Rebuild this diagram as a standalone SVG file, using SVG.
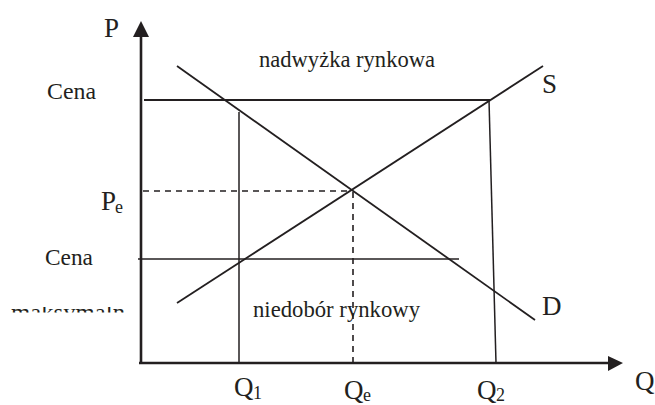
<svg xmlns="http://www.w3.org/2000/svg" width="655" height="405" viewBox="0 0 655 405">
<defs>
<style>
text{font-family:"Liberation Serif","DejaVu Serif",serif;fill:#231f20}
.lbl{font-size:23.5px}
.big{font-size:27px}
.sub{font-size:18px}
.ax{stroke:#231f20;stroke-width:2.6;fill:none}
.ln{stroke:#231f20;stroke-width:1.8;fill:none}
.th{stroke:#231f20;stroke-width:1.5;fill:none}
.ds{stroke:#231f20;stroke-width:1.6;fill:none;stroke-dasharray:6,5}
.ah{fill:#231f20}
</style>
<clipPath id="clipM"><rect x="0" y="307" width="140" height="5.5"/></clipPath>
</defs>
<rect width="655" height="405" fill="#fff"/>
<g id="axes">
<line class="ax" x1="141" y1="34" x2="141" y2="364"/>
<polygon class="ah" points="133,37 149,37 141,21"/>
<line class="ax" x1="139" y1="363" x2="610" y2="363"/>
<polygon class="ah" points="608,356 608,371 623,363"/>
</g>
<g id="connectors">
<line class="ln" x1="144" y1="100" x2="490" y2="100"/>
<line class="th" x1="239" y1="112" x2="239" y2="363"/>
<line class="th" x1="489" y1="100" x2="496" y2="363"/>
<line class="th" x1="138" y1="259" x2="459" y2="259"/>
<line class="ds" x1="143" y1="191" x2="352" y2="191"/>
<line class="ds" x1="353" y1="192" x2="353" y2="363"/>
<line class="ln" x1="177" y1="66" x2="535" y2="320"/>
<line class="ln" x1="177" y1="303" x2="543" y2="66"/>
</g>
<g id="label-P"><text class="big" x="104" y="37" font-size="28">P</text></g>
<g id="label-cena-top"><text class="lbl" x="47" y="99" textLength="49" lengthAdjust="spacingAndGlyphs">Cena</text></g>
<g id="label-Pe"><text class="big" x="101" y="210">P</text><text class="sub" x="115" y="213">e</text></g>
<g id="label-cena-bottom"><text class="lbl" x="45" y="265" textLength="48" lengthAdjust="spacingAndGlyphs">Cena</text></g>
<g id="label-maks" clip-path="url(#clipM)"><text class="lbl" x="11" y="320" textLength="114" lengthAdjust="spacingAndGlyphs">maksymaln</text></g>
<g id="label-nadwyzka"><text class="lbl" x="259" y="67" textLength="176" lengthAdjust="spacingAndGlyphs">nadwyżka rynkowa</text></g>
<g id="label-S"><text class="big" x="542" y="93" font-size="28">S</text></g>
<g id="label-D"><text class="big" x="542" y="315">D</text></g>
<g id="label-niedobor"><text class="lbl" x="253" y="317" textLength="167" lengthAdjust="spacingAndGlyphs">niedobór rynkowy</text></g>
<g id="label-Q1"><text class="big" x="234" y="396">Q</text><text class="sub" x="253" y="399">1</text></g>
<g id="label-Qe"><text class="big" x="344" y="399">Q</text><text class="sub" x="363" y="401">e</text></g>
<g id="label-Q2"><text class="big" x="477" y="399">Q</text><text class="sub" x="496" y="401">2</text></g>
<g id="label-Q"><text class="big" x="635" y="390">Q</text></g>
</svg>
